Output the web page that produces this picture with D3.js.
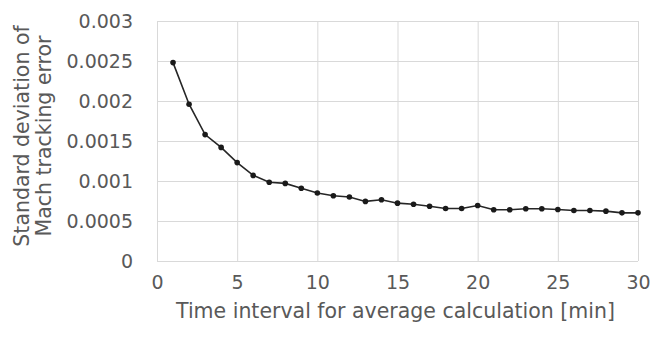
<!DOCTYPE html>
<html>
<head>
<meta charset="utf-8">
<script src="https://cdn.jsdelivr.net/npm/d3@7"></script>
<style>
  html, body { margin: 0; padding: 0; background: #fff; }
  svg text { font-family: "DejaVu Sans", sans-serif; fill: #595959; }
</style>
</head>
<body>
<div id="chart"></div>
<script>
// Data.
const intervals = [1, 2, 3, 4, 5, 6, 7, 8, 9, 10, 11, 12, 13, 14, 15,
  16, 17, 18, 19, 20, 21, 22, 23, 24, 25, 26, 27, 28, 29, 30];
const stdDev = [0.00248, 0.00196, 0.00158, 0.00142, 0.00123, 0.00107, 0.000985, 0.00097,
  0.00091, 0.00085, 0.000815, 0.0008, 0.000745, 0.000765, 0.000723, 0.00071,
  0.000685, 0.000656, 0.000656, 0.000694, 0.00064, 0.00064, 0.000653, 0.000653,
  0.000644, 0.000631, 0.000631, 0.000623, 0.000602, 0.000602];
const xTicks = [0, 5, 10, 15, 20, 25, 30];
const yTicks = [0, 0.0005, 0.001, 0.0015, 0.002, 0.0025, 0.003];
const yTickLabels = ['0', '0.0005', '0.001', '0.0015', '0.002', '0.0025', '0.003'];
const xTitle = 'Time interval for average calculation [min]';
const yTitle = ['Standard deviation of', 'Mach tracking error'];

const width = 651;
const height = 337;
const margin = { top: 21, right: 13, bottom: 76, left: 157 };
const plotW = width - margin.left - margin.right;
const plotH = height - margin.top - margin.bottom;
const font = '"DejaVu Sans", sans-serif';

const svg = d3.select('#chart').append('svg')
  .attr('width', width)
  .attr('height', height);

svg.append('rect')
  .attr('width', width)
  .attr('height', height)
  .attr('fill', '#fff');

const chart = svg.append('g')
  .attr('transform', 'translate(' + margin.left + ',' + margin.top + ')');

const x = d3.scaleLinear().domain([0, 30]).range([0, plotW]);
const y = d3.scaleLinear().domain([0, 0.003]).range([plotH, 0]);

// Gridlines + tick labels
const yAxis = chart.append('g')
  .call(d3.axisLeft(y)
    .tickValues(yTicks)
    .tickSize(-plotW)
    .tickPadding(24)
    .tickFormat((d, i) => yTickLabels[i]));

const xAxis = chart.append('g')
  .attr('transform', 'translate(0,' + plotH + ')')
  .call(d3.axisBottom(x)
    .tickValues(xTicks)
    .tickSize(-plotH)
    .tickPadding(15)
    .tickFormat(d3.format('d')));

[xAxis, yAxis].forEach(a => {
  a.select('.domain').remove();
  a.selectAll('.tick line').attr('stroke', '#d9d9d9').attr('stroke-width', 1);
  a.selectAll('.tick text')
    .attr('fill', '#595959')
    .style('font-size', '19px')
    .style('font-family', font);
});

// Series
const points = intervals.map((d, i) => ({ x: d, y: stdDev[i] }));

const line = d3.line()
  .x(d => x(d.x))
  .y(d => y(d.y));

chart.append('path')
  .datum(points)
  .attr('d', line)
  .attr('fill', 'none')
  .attr('stroke', '#262626')
  .attr('stroke-width', 1.6);

chart.selectAll('.marker')
  .data(points)
  .enter()
  .append('circle')
  .attr('class', 'marker')
  .attr('cx', d => x(d.x))
  .attr('cy', d => y(d.y))
  .attr('r', 2.8)
  .attr('fill', '#1a1a1a');

// Axis titles
svg.append('text')
  .attr('x', margin.left + plotW / 2 - 2)
  .attr('y', 318)
  .attr('text-anchor', 'middle')
  .style('font-size', '20.5px')
  .text(xTitle);

const yt = svg.append('text')
  .attr('transform', 'translate(0,' + (margin.top + plotH / 2 - 5) + ') rotate(-90)')
  .attr('text-anchor', 'middle')
  .style('font-size', '20.5px');

yt.selectAll('tspan')
  .data(yTitle)
  .enter()
  .append('tspan')
  .attr('x', 0)
  .attr('y', (d, i) => 29 + i * 22)
  .text(d => d);
</script>
</body>
</html>
